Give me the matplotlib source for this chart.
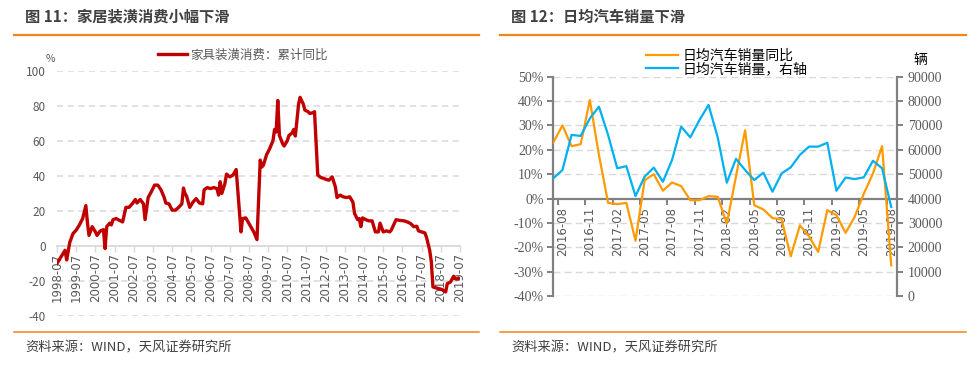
import numpy as np
import pandas as pd
import matplotlib
matplotlib.use('Agg')
import matplotlib.pyplot as plt
from matplotlib.lines import Line2D
from matplotlib.ticker import FixedLocator, FuncFormatter

plt.rcParams['font.family'] = ['Noto Sans CJK SC', 'DejaVu Sans']
plt.rcParams['axes.unicode_minus'] = False

# ---- data: left chart (家具装潢消费 累计同比, %) ----
furn_dates = [
    '1998-07', '1998-12', '1999-01', '1999-03', '1999-05', '1999-07', '1999-09', '1999-11',
    '2000-01', '2000-02', '2000-03', '2000-05', '2000-07', '2000-08', '2000-10', '2000-12',
    '2001-01', '2001-02', '2001-04', '2001-05', '2001-06', '2001-08', '2001-10', '2001-12',
    '2002-02', '2002-04', '2002-06', '2002-08', '2002-09', '2002-11', '2003-01', '2003-02',
    '2003-04', '2003-06', '2003-08', '2003-10', '2003-12', '2004-02', '2004-03', '2004-05',
    '2004-07', '2004-09', '2004-11', '2005-01', '2005-02', '2005-03', '2005-04', '2005-06',
    '2005-08', '2005-10', '2005-12', '2006-02', '2006-03', '2006-05', '2006-07', '2006-09',
    '2006-11', '2006-12', '2007-01', '2007-02', '2007-04', '2007-05', '2007-07', '2007-09',
    '2007-11', '2008-02', '2008-03', '2008-05', '2008-07', '2008-10', '2008-12', '2009-02',
    '2009-03', '2009-04', '2009-06', '2009-08', '2009-10', '2009-11', '2009-12', '2010-01',
    '2010-02', '2010-04', '2010-05', '2010-07', '2010-08', '2010-10', '2010-11', '2010-12',
    '2011-02', '2011-03', '2011-05', '2011-06', '2011-08', '2011-09', '2011-11', '2011-12',
    '2012-02', '2012-04', '2012-06', '2012-07', '2012-09', '2012-11', '2013-01', '2013-02',
    '2013-04', '2013-06', '2013-08', '2013-10', '2013-12', '2014-01', '2014-03', '2014-04',
    '2014-05', '2014-06', '2014-08', '2014-10', '2014-12', '2015-02', '2015-04', '2015-05',
    '2015-07', '2015-09', '2015-11', '2015-12', '2016-02', '2016-03', '2016-05', '2016-08',
    '2016-10', '2016-12', '2017-02', '2017-04', '2017-05', '2017-07', '2017-09', '2017-10',
    '2017-12', '2018-01', '2018-02', '2018-04', '2018-06', '2018-08', '2018-10', '2018-11',
    '2019-01', '2019-03', '2019-04', '2019-06',
]
furn_yoy = [
    -10, -2.5, -8, 2, 7, 9, 12, 15.6,
    23, 13, 6, 11, 8, 6, 8.5, 9.3,
    -1.5, 11, 13, 12, 15, 15.6, 14.6, 13.7,
    22, 22, 24, 26.5, 24.5, 26.5, 24, 15,
    27.6, 31, 34.7, 34.7, 32, 27.6, 24.5, 24,
    20.4, 20.4, 22, 24, 33, 30, 28.4, 22,
    25, 27, 24.5, 24, 32, 33.3, 32.7, 33.3,
    32.7, 29, 36.6, 30, 35.6, 41, 39.4, 40.4,
    43.6, 8, 15.6, 16, 12.8, 8, 3.6, 49,
    45, 46, 52, 55.6, 60, 66.5, 65, 83,
    63, 58.5, 57, 60, 63, 64.5, 66.5, 62.7,
    81, 84.8, 81, 77.5, 76.6, 75.6, 76, 76.6,
    40.4, 39, 38.5, 38, 37.5, 39.4, 33.7, 27.6,
    29, 28, 27.6, 28, 25, 18.5, 15, 15.6,
    11, 16, 15, 14.3, 14.3, 8, 8, 13,
    8, 8.6, 8, 9, 13, 15, 14.6, 14.3,
    13.7, 12.8, 11, 11.2, 8.6, 8, 7.4, 5,
    -2.5, -9, -23.4, -24, -24.4, -25, -26.3, -21.5,
    -20.6, -17.3, -18.7, -18.7,
]
furn_label = '家具装潢消费：累计同比'

# ---- data: right chart (日均汽车销量) ----
car_months = [
    '2016-07', '2016-08', '2016-09', '2016-10', '2016-11', '2016-12', '2017-01', '2017-02',
    '2017-03', '2017-04', '2017-05', '2017-06', '2017-07', '2017-08', '2017-09', '2017-10',
    '2017-11', '2017-12', '2018-01', '2018-02', '2018-03', '2018-04', '2018-05', '2018-06',
    '2018-07', '2018-08', '2018-09', '2018-10', '2018-11', '2018-12', '2019-01', '2019-02',
    '2019-03', '2019-04', '2019-05', '2019-06', '2019-07', '2019-08',
]
car_yoy = [
    23, 30, 21.5, 22.3, 40.4, 17.8, -1.8, -2.3,
    -1.8, -17.3, 7.5, 10, 3.2, 6.6, 5.1, -0.7,
    -0.7, 1.0, 0.7, -10.3, 9, 28, -2.7, -4.5,
    -8, -8.6, -23.7, -11, -15.5, -21.9, -4.8, -6.8,
    -14.1, -7.5, 2, 10.3, 21.5, -27.4,
]
car_daily = [
    48300, 51700, 66100, 65700, 72900, 77700, 66100, 52400,
    53300, 41000, 49000, 52700, 46900, 55800, 69500, 65100,
    72200, 78400, 65100, 46500, 56300, 51700, 47600, 50600,
    42800, 50300, 52800, 57900, 61300, 61300, 62900, 43200,
    48600, 48000, 48700, 55500, 52400, 36500,
]
car_labels = ['日均汽车销量同比', '日均汽车销量，右轴']

W, H = 977, 375
ORANGE_RULE = '#F08519'
GRID = '#d9d9d9'
TXT = '#595959'


def fx(px):
    return px / W


def fy(py):
    return 1 - py / H


fig = plt.figure(figsize=(W / 100, H / 100), dpi=100)

# titles, rules, sources
for x0, x1, title in [(14, 479, '图 11：家居装潢消费小幅下滑'),
                      (500, 966, '图 12：日均汽车销量下滑')]:
    fig.text(fx(x0 + 11), fy(17), title, ha='left', va='center',
             fontsize=11, fontweight='bold', color='#404040')
    fig.add_artist(Line2D([fx(x0), fx(x1)], [fy(34.7), fy(34.7)],
                          color=ORANGE_RULE, lw=1.6))
    fig.add_artist(Line2D([fx(x0), fx(x1)], [fy(332), fy(332)],
                          color=ORANGE_RULE, lw=1.1))
    fig.text(fx(x0 + 11), fy(348), '资料来源：WIND，天风证券研究所', ha='left',
             va='center', fontsize=9.5, color='#404040')

# ---- left chart ----
ax = fig.add_axes([fx(57), fy(316), (460 - 57) / W, (316 - 70.7) / H])
xd = pd.to_datetime(furn_dates, format='%Y-%m')
ln, = ax.plot(xd, furn_yoy, color='#C00000', lw=2.4, solid_joinstyle='round',
              label=furn_label, zorder=3)
ax.set_ylim(-40, 100)
ax.set_xlim(pd.Timestamp('1998-07-01'), pd.Timestamp('2019-07-01'))
ax.set_yticks([-40, -20, 0, 20, 40, 60, 80, 100])
for g in [-40, -20, 20, 40, 60, 80, 100]:
    ax.axhline(g, color=GRID, lw=1.1, ls=(0, (4, 3)), zorder=1)
for s in ['left', 'right', 'top']:
    ax.spines[s].set_visible(False)
ax.spines['bottom'].set_position(('data', 0))
ax.spines['bottom'].set_color(GRID)
ax.spines['bottom'].set_linewidth(1.3)
xt = pd.date_range('1998-07-01', '2019-07-01', freq='12MS')
ax.set_xticks(xt)
ax.set_xticklabels([t.strftime('%Y-%m') for t in xt], rotation=90,
                   fontsize=8.5, color=TXT, family=['DejaVu Sans'])
ax.tick_params(axis='x', direction='out', length=4, width=1, color=GRID, pad=1)
ax.tick_params(axis='y', length=0, pad=8, labelsize=8.5, labelcolor=TXT)
ax.set_facecolor('none')
fig.text(fx(50.5), fy(59), '%', ha='center', va='center', fontsize=7.5, color=TXT)
ax.legend(handles=[ln], loc='center left', bbox_to_anchor=(fx(158), fy(55)),
          bbox_transform=fig.transFigure, frameon=False, fontsize=9,
          handlelength=2.3, handletextpad=0.3, borderpad=0, borderaxespad=0,
          labelcolor=TXT)

# ---- right chart ----
axl = fig.add_axes([fx(553.3), fy(296), (896.7 - 553.3) / W, (296 - 76.7) / H])
axr = axl.twinx()
k = np.arange(len(car_months))
lo, = axl.plot(k, car_yoy, color='#FF9A00', lw=1.6, label=car_labels[0], zorder=3)
lb, = axr.plot(k, car_daily, color='#00B0F0', lw=1.6, label=car_labels[1], zorder=3)
axl.set_ylim(-40, 50)
axr.set_ylim(0, 90000)
axl.set_xlim(0, 37.6)
for g in range(-40, 51, 10):
    if g != 0:
        axl.axhline(g, color=GRID, lw=1.0, ls=(0, (5, 3)), zorder=1)
axl.set_yticks(range(-40, 51, 10))
axr.set_yticks(range(0, 90001, 10000))
axl.yaxis.set_major_formatter(FuncFormatter(lambda v, p: f'{v:.0f}%'))
axr.yaxis.set_major_formatter(FuncFormatter(lambda v, p: f'{v:.0f}'))
SP = '#808080'
axl.spines['top'].set_visible(False)
axl.spines['right'].set_visible(False)
axl.spines['left'].set_color(SP)
axl.spines['left'].set_linewidth(1.6)
axl.spines['bottom'].set_position(('data', 0))
axl.spines['bottom'].set_color(SP)
axl.spines['bottom'].set_linewidth(1.6)
for s in ['top', 'left', 'bottom']:
    axr.spines[s].set_visible(False)
axr.spines['right'].set_color(SP)
axr.spines['right'].set_linewidth(1.6)
lab_idx = list(range(1, len(car_months), 3))
axl.set_xticks(lab_idx)
axl.set_xticklabels([car_months[i] for i in lab_idx], rotation=90, fontsize=8.5,
                    color=TXT, family=['DejaVu Sans'])
axl.xaxis.set_minor_locator(FixedLocator([i - 0.5 for i in lab_idx]))
axl.tick_params(axis='x', which='major', length=0, pad=6)
axl.tick_params(axis='x', which='minor', direction='out', length=4, width=1.4, color=SP)
axl.tick_params(axis='y', direction='out', length=4, width=1.4, color=SP, pad=3)
axr.tick_params(axis='y', direction='out', length=4, width=1.4, color=SP, pad=4)
for t in axl.get_yticklabels() + axr.get_yticklabels():
    t.set_family(['Liberation Serif'])
    t.set_fontsize(10)
    t.set_color(TXT)
fig.text(fx(920), fy(60), '辆', ha='center', va='center', fontsize=10, color='#000000')
axr.legend(handles=[lo, lb], loc='upper left', bbox_to_anchor=(fx(646), fy(49)),
           bbox_transform=fig.transFigure, frameon=False, fontsize=10,
           handlelength=2.3, handletextpad=0.3, borderpad=0, borderaxespad=0,
           labelspacing=-0.05)

fig.savefig('out.png', dpi=100)
